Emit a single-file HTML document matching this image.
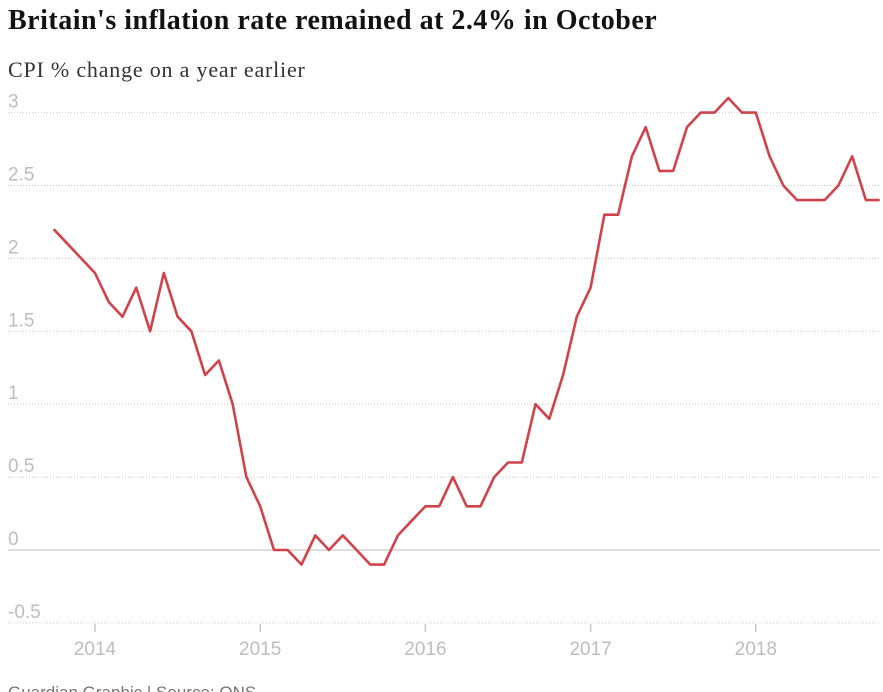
<!DOCTYPE html>
<html><head><meta charset="utf-8"><style>
body{margin:0;background:#fff;width:883px;height:692px;overflow:hidden;}
svg{display:block}
</style></head><body>
<svg width="883" height="692">
<text x="8" y="29" font-family="Liberation Serif, serif" font-weight="bold" font-size="28" fill="#121212" letter-spacing="0.5">Britain's inflation rate remained at 2.4% in October</text>
<text x="8" y="77" font-family="Liberation Serif, serif" font-size="22" fill="#333" letter-spacing="0.8">CPI % change on a year earlier</text>
<g id="grid"></g><g id="xaxis"></g><g id="series"></g>
<text x="8" y="698" font-family="Liberation Sans, sans-serif" font-size="17" fill="#767676">Guardian Graphic | Source: ONS</text>
</svg>
<script>
const yTicks=[-0.5,0,0.5,1,1.5,2,2.5,3];
const yTickLabels=["-0.5","0","0.5","1","1.5","2","2.5","3"];
const xTicks=[2014,2015,2016,2017,2018];
const startYear=2013, startMonth=9; // Oct 2013 (0-based month)
const cpi=[2.2,2.1,2.0,
1.9,1.7,1.6,1.8,1.5,1.9,1.6,1.5,1.2,1.3,1.0,0.5,
0.3,0.0,0.0,-0.1,0.1,0.0,0.1,0.0,-0.1,-0.1,0.1,0.2,
0.3,0.3,0.5,0.3,0.3,0.5,0.6,0.6,1.0,0.9,1.2,1.6,
1.8,2.3,2.3,2.7,2.9,2.6,2.6,2.9,3.0,3.0,3.1,3.0,
3.0,2.7,2.5,2.4,2.4,2.4,2.5,2.7,2.4,2.4];
const NS="http://www.w3.org/2000/svg";
const y=v=>550-v*145.8;
const x=t=>95+(t-2014)*165.2;
function mk(tag,attrs,parent){const e=document.createElementNS(NS,tag);for(const k in attrs)e.setAttribute(k,attrs[k]);parent.appendChild(e);return e;}
const g=document.getElementById('grid');
yTicks.forEach((v,i)=>{
 const l=mk('line',{x1:8,x2:880,y1:y(v),y2:y(v),stroke:v===0?'#bdbdbd':'#c8c8c8','stroke-width':1,'stroke-dasharray':v===0?'none':'1,2'},g);
 
 
 const t=mk('text',{x:8,y:y(v)-5,'font-family':'Liberation Sans, sans-serif','font-size':19,fill:'#bdbdbd'},g);
 t.textContent=yTickLabels[i];
 
 
});
const xa=document.getElementById('xaxis');
xTicks.forEach(yr=>{
 const l=mk('line',{x1:x(yr),x2:x(yr),y1:624,y2:632,stroke:'#c8c8c8','stroke-width':1.5},xa);
 
 
 const t=mk('text',{x:x(yr),y:655,'text-anchor':'middle','font-family':'Liberation Sans, sans-serif','font-size':19,fill:'#bdbdbd'},xa);
 t.textContent=yr;
 
 
});
const pts=cpi.map((v,i)=>{const t=startYear+(startMonth+i)/12;return x(t).toFixed(1)+','+y(v).toFixed(1);});
const p=mk('polyline',{points:pts.join(' '),fill:'none',stroke:'#d0434b','stroke-width':2.6,'stroke-linejoin':'round'},document.getElementById('series'));


</script>
</body></html>
